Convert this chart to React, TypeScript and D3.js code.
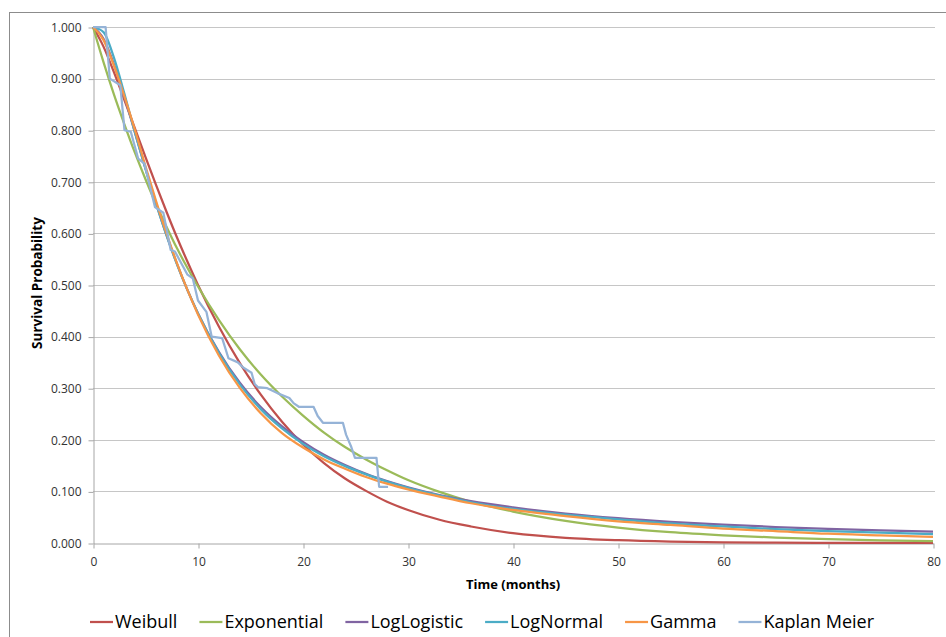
import React, { useEffect, useRef } from "react";
import * as d3 from "d3";

// fitted survival curves at these months
const months = [0, 1, 2, 3, 4, 5, 6, 7, 8, 9, 10, 12, 14, 16, 18, 20, 22, 24, 26, 28, 30, 33, 36, 40, 45, 50, 55, 60, 65, 70, 75, 80];
const weibull = [1, 0.962, 0.912, 0.858, 0.803, 0.748, 0.694, 0.642, 0.592, 0.545, 0.5, 0.419, 0.348, 0.287, 0.235, 0.191, 0.155, 0.125, 0.101, 0.08, 0.064, 0.045, 0.032, 0.019, 0.01, 0.0054, 0.0028, 0.0014, 0.0007, 0.0004, 0.0002, 0.0001];
const exponential = [1, 0.932, 0.869, 0.811, 0.756, 0.705, 0.657, 0.613, 0.571, 0.533, 0.497, 0.432, 0.375, 0.326, 0.284, 0.247, 0.214, 0.186, 0.162, 0.141, 0.122, 0.099, 0.08, 0.061, 0.043, 0.03, 0.021, 0.015, 0.0106, 0.0074, 0.0052, 0.0037];
const logLogistic = [1, 0.977, 0.927, 0.864, 0.795, 0.726, 0.659, 0.597, 0.541, 0.49, 0.445, 0.37, 0.31, 0.263, 0.226, 0.196, 0.171, 0.151, 0.134, 0.12, 0.108, 0.093, 0.081, 0.069, 0.057, 0.048, 0.041, 0.0355, 0.031, 0.0275, 0.0245, 0.022];
const logNormal = [1, 0.99, 0.94, 0.87, 0.795, 0.725, 0.658, 0.596, 0.54, 0.49, 0.445, 0.368, 0.307, 0.259, 0.222, 0.192, 0.168, 0.149, 0.133, 0.119, 0.107, 0.092, 0.079, 0.066, 0.055, 0.046, 0.038, 0.032, 0.027, 0.023, 0.02, 0.017];
const gamma = [1, 0.975, 0.925, 0.865, 0.8, 0.73, 0.663, 0.6, 0.542, 0.49, 0.443, 0.363, 0.3, 0.251, 0.213, 0.185, 0.162, 0.144, 0.128, 0.115, 0.104, 0.09, 0.077, 0.064, 0.052, 0.042, 0.035, 0.028, 0.023, 0.018, 0.015, 0.012];

// Kaplan Meier estimate (steps drawn as a polyline)
const kmMonths = [0, 1.2, 1.6, 2.6, 3.0, 3.6, 4.3, 4.9, 5.9, 6.7, 7.4, 7.8, 9.0, 9.5, 10.0, 10.8, 11.3, 12.3, 12.9, 13.8, 14.3, 15.1, 15.4, 15.7, 16.6, 17.6, 18.7, 19.1, 19.6, 21.0, 21.4, 21.9, 23.8, 24.1, 24.6, 24.95, 27.0, 27.25, 28.1];
const kmSurvival = [1, 1, 0.9, 0.887, 0.8, 0.797, 0.745, 0.735, 0.651, 0.64, 0.568, 0.565, 0.52, 0.513, 0.47, 0.448, 0.4, 0.397, 0.358, 0.35, 0.34, 0.33, 0.308, 0.302, 0.3, 0.29, 0.281, 0.271, 0.264, 0.264, 0.246, 0.233, 0.233, 0.21, 0.186, 0.165, 0.165, 0.109, 0.109];

const seriesNames = ["Weibull", "Exponential", "LogLogistic", "LogNormal", "Gamma", "Kaplan Meier"];
const seriesColors = ["#C0504D", "#9BBB59", "#8064A2", "#4BACC6", "#F79646", "#95B3D7"];
const fitted = [weibull, exponential, logLogistic, logNormal, gamma];

const xTicks = [0, 10, 20, 30, 40, 50, 60, 70, 80];
const yTicks = [0, 0.1, 0.2, 0.3, 0.4, 0.5, 0.6, 0.7, 0.8, 0.9, 1];

const FONT = "'Open Sans', 'Noto Sans', sans-serif";

export default function App() {
  const ref = useRef<SVGSVGElement>(null);

  useEffect(() => {
    const svg = d3.select(ref.current);
    svg.selectAll("*").remove();

    const x = d3.scaleLinear().domain([0, 80]).range([93, 933]);
    const y = d3.scaleLinear().domain([0, 1]).range([543, 27]);

    svg.append("rect").attr("width", 946).attr("height", 637).attr("fill", "#fff");
    svg
      .append("rect")
      .attr("x", 9.5)
      .attr("y", 12.5)
      .attr("width", 960)
      .attr("height", 660)
      .attr("fill", "none")
      .attr("stroke", "#8c8c8c");

    // gridlines
    svg
      .append("g")
      .selectAll("line")
      .data(yTicks.filter((d) => d > 0))
      .enter()
      .append("line")
      .attr("x1", x(0))
      .attr("x2", x(80) + 2)
      .attr("y1", (d) => Math.round(y(d)) + 0.5)
      .attr("y2", (d) => Math.round(y(d)) + 0.5)
      .attr("stroke", "#c6c6c6");

    const yAxis = svg
      .append("g")
      .attr("transform", `translate(${x(0) + 0.5},0.5)`)
      .call(d3.axisLeft(y).tickValues(yTicks).tickFormat(d3.format(".3f")).tickSize(5).tickSizeOuter(0).tickPadding(7));
    const xAxis = svg
      .append("g")
      .attr("transform", `translate(0.5,${y(0) + 0.5})`)
      .call(d3.axisBottom(x).tickValues(xTicks).tickSize(5).tickSizeOuter(0).tickPadding(9));
    [yAxis, xAxis].forEach((g) => {
      g.selectAll("path, line").attr("stroke", "#a6a6a6");
      g.selectAll("text").attr("font-family", FONT).attr("font-size", 12).attr("fill", "#333");
    });

    const line = d3
      .line<[number, number]>()
      .x((d) => x(d[0]))
      .y((d) => y(d[1]))
      .curve(d3.curveMonotoneX);

    fitted.forEach((vals, i) => {
      svg
        .append("path")
        .attr("d", line(months.map((m, j) => [m, vals[j]] as [number, number])))
        .attr("fill", "none")
        .attr("stroke", seriesColors[i])
        .attr("stroke-width", 2.25);
    });

    svg
      .append("path")
      .attr("d", line.curve(d3.curveLinear)(kmMonths.map((m, j) => [m, kmSurvival[j]] as [number, number])))
      .attr("fill", "none")
      .attr("stroke", seriesColors[5])
      .attr("stroke-width", 2.25)
      .attr("stroke-linejoin", "round");

    // axis titles
    svg
      .append("text")
      .attr("x", 513)
      .attr("y", 589)
      .attr("text-anchor", "middle")
      .attr("font-family", FONT)
      .attr("font-weight", "bold")
      .attr("font-size", 13)
      .attr("fill", "#000")
      .text("Time (months)");
    svg
      .append("text")
      .attr("transform", "translate(42,283) rotate(-90)")
      .attr("text-anchor", "middle")
      .attr("font-family", FONT)
      .attr("font-weight", "bold")
      .attr("font-size", 13.5)
      .attr("fill", "#000")
      .text("Survival Probability");

    // legend
    const legend = svg.append("g").attr("transform", "translate(0,622)");
    let cx = 90;
    seriesNames.forEach((name, i) => {
      const item = legend.append("g").attr("transform", `translate(${cx},0)`);
      item
        .append("line")
        .attr("x1", 0)
        .attr("x2", 23)
        .attr("stroke", seriesColors[i])
        .attr("stroke-width", 2.25);
      const t = item
        .append("text")
        .attr("x", 25)
        .attr("dy", "0.35em")
        .attr("font-family", FONT)
        .attr("font-size", 18)
        .attr("fill", "#000")
        .text(name);
      const w = (t.node() as SVGTextElement).getComputedTextLength();
      cx += 25 + w + 22;
    });
  }, []);

  return <svg ref={ref} width={946} height={637} style={{ position: "absolute", left: 0, top: 0 }} />;
}
